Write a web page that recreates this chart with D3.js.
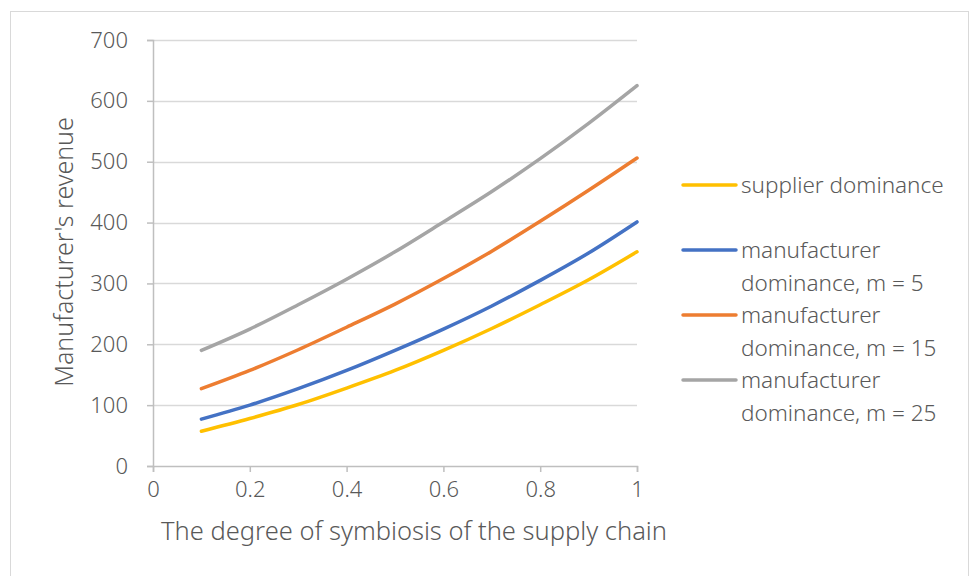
<!DOCTYPE html>
<html>
<head>
<meta charset="utf-8">
<script src="https://cdn.jsdelivr.net/npm/d3@7"></script>
<style>
  body { margin: 0; background: #fff; }
  text { font-family: "Noto Sans", "Open Sans", sans-serif; font-weight: 300; fill: #595959; }
</style>
</head>
<body>
<div id="chart"></div>
<script>
// Data
var symbiosis = [0.1, 0.2, 0.3, 0.4, 0.5, 0.6, 0.7, 0.8, 0.9, 1.0];
var supplierDom = [57, 78, 101, 128, 157, 190, 226, 265, 306, 352];
var manuDomM5 = [77, 100, 127, 157, 190, 225, 263, 305, 350, 401];
var manuDomM15 = [127, 157, 191, 228, 266, 308, 353, 402, 453, 506];
var manuDomM25 = [190, 225, 265, 307, 352, 401, 451, 505, 563, 625];
var xTicks = [0, 0.2, 0.4, 0.6, 0.8, 1];
var yTicks = [0, 100, 200, 300, 400, 500, 600, 700];

var series = [
    {name: ["supplier dominance"], values: supplierDom, color: "#ffc000"},
    {name: ["manufacturer", "dominance, m = 5"], values: manuDomM5, color: "#4472c4"},
    {name: ["manufacturer", "dominance, m = 15"], values: manuDomM15, color: "#ed7d31"},
    {name: ["manufacturer", "dominance, m = 25"], values: manuDomM25, color: "#a5a5a5"}
];

var W = 970, H = 576;
var margin = {top: 40, right: 333, bottom: 110, left: 153},
    width = W - margin.left - margin.right,
    height = H - margin.top - margin.bottom;

var root = d3.select("#chart").append("svg")
    .attr("width", W)
    .attr("height", H);

// chart frame
root.append("rect")
    .attr("x", 10.5).attr("y", 11.5)
    .attr("width", 958).attr("height", 600)
    .attr("fill", "none")
    .attr("stroke", "#d9d9d9");

var svg = root.append("g")
    .attr("transform", "translate(" + margin.left + "," + margin.top + ")");

var x = d3.scaleLinear().domain([0, 1]).range([0, width]);
var y = d3.scaleLinear().domain([0, 700]).range([height, 0]);

// gridlines
svg.append("g")
    .selectAll("line")
    .data(yTicks.slice(1))
    .join("line")
    .attr("x1", 0).attr("x2", width)
    .attr("y1", function(d) { return Math.round(y(d)) + 0.5; })
    .attr("y2", function(d) { return Math.round(y(d)) + 0.5; })
    .attr("stroke", "#d9d9d9")
    .attr("stroke-width", 1.5);

// axes
var xAxis = d3.axisBottom(x).tickValues(xTicks).tickSize(6).tickPadding(7)
    .tickFormat(function(d) { return d === 0 || d === 1 ? d : d3.format(".1f")(d); });
var yAxis = d3.axisLeft(y).tickValues(yTicks).tickSize(6).tickPadding(19);

var gx = svg.append("g")
    .attr("transform", "translate(0," + height + ")")
    .call(xAxis);
var gy = svg.append("g").call(yAxis);

[gx, gy].forEach(function(g) {
    g.select(".domain").attr("stroke", "#bfbfbf").attr("stroke-width", 1.5);
    g.selectAll(".tick line").attr("stroke", "#bfbfbf").attr("stroke-width", 1.5);
    g.selectAll(".tick text").attr("font-size", 22).attr("font-family", null).style("fill", "#595959");
});
gx.selectAll(".tick text").attr("dy", "0.8em");

// lines
var line = d3.line()
    .x(function(d, i) { return x(symbiosis[i]); })
    .y(function(d) { return y(d); })
    .curve(d3.curveMonotoneX);

svg.selectAll(".series")
    .data(series)
    .join("path")
    .attr("class", "series")
    .attr("d", function(s) { return line(s.values); })
    .attr("fill", "none")
    .attr("stroke", function(s) { return s.color; })
    .attr("stroke-width", 3.5)
    .attr("stroke-linecap", "round");

// axis titles
root.append("text")
    .attr("x", 414)
    .attr("y", 540)
    .attr("text-anchor", "middle")
    .attr("font-size", 25.5)
    .text("The degree of symbiosis of the supply chain");

root.append("text")
    .attr("transform", "translate(73," + 252 + ") rotate(-90)")
    .attr("text-anchor", "middle")
    .attr("font-size", 25)
    .text("Manufacturer's revenue");

// legend
var legendY = [185, 250, 315, 380];
var legend = root.append("g");
series.forEach(function(s, i) {
    var g = legend.append("g").attr("transform", "translate(683," + legendY[i] + ")");
    g.append("line")
        .attr("x1", 0).attr("x2", 53)
        .attr("stroke", s.color)
        .attr("stroke-width", 3.5)
        .attr("stroke-linecap", "round");
    s.name.forEach(function(t, k) {
        g.append("text")
            .attr("x", 58)
            .attr("y", k * 33)
            .attr("dy", "0.35em")
            .attr("font-size", 22.5)
            .text(t);
    });
});
</script>
</body>
</html>
